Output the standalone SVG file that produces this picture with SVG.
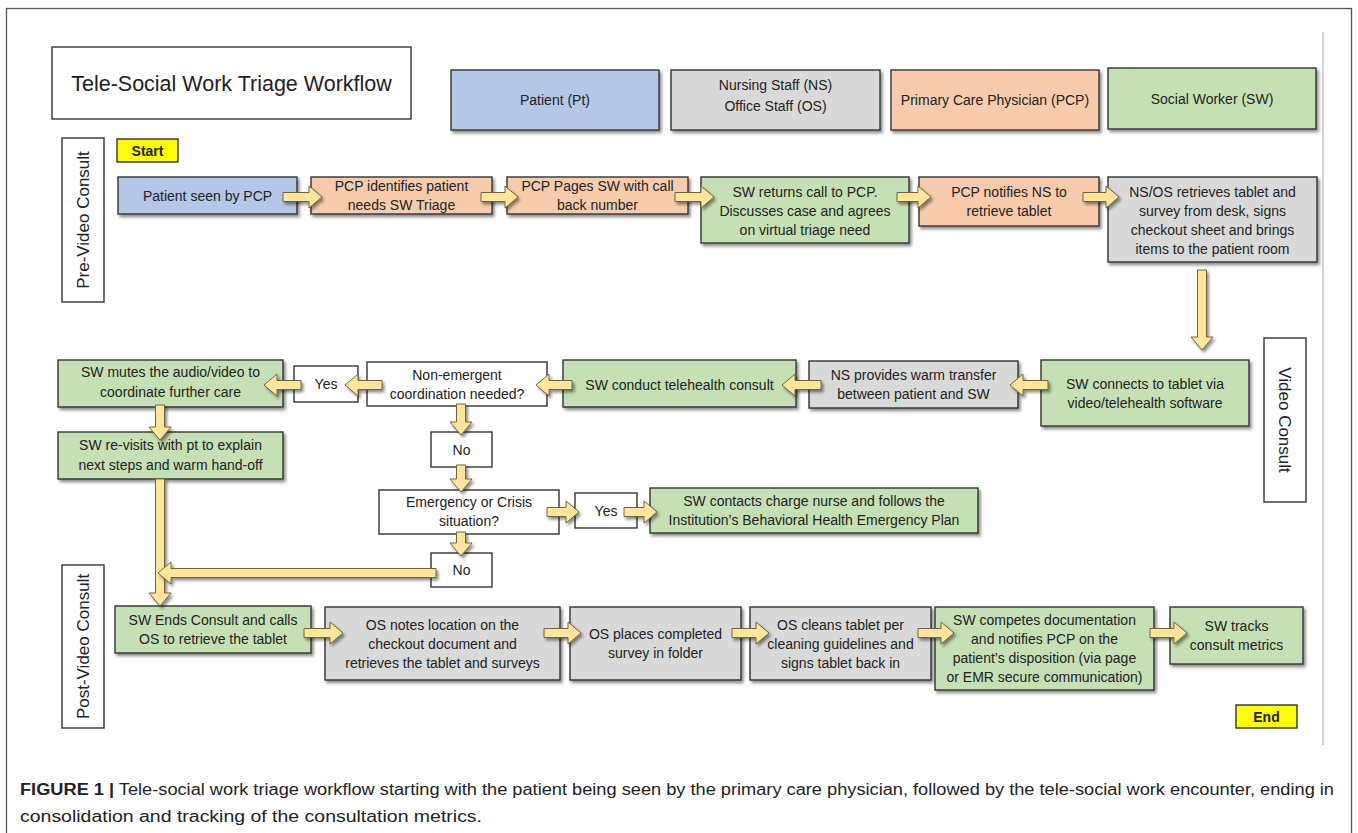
<svg xmlns="http://www.w3.org/2000/svg" width="1358" height="833" viewBox="0 0 1358 833">
<defs>
<filter id="sh" x="-10%" y="-10%" width="130%" height="140%">
<feDropShadow dx="2" dy="2.5" stdDeviation="1.5" flood-color="#000" flood-opacity="0.45"/>
</filter>
<style>
.bx{stroke:#333;stroke-width:1.4;filter:url(#sh)}
.pt{fill:#b4c7e7}.ns{fill:#d9d9d9}.pcp{fill:#f8cbad}.sw{fill:#c5e0b4}.wh{fill:#fff}.yl{fill:#ffff00}
.lab{fill:#fff;stroke:#333;stroke-width:1.4}
.dec{fill:#fff;stroke:#333;stroke-width:1.4}
.t{font-family:"Liberation Sans",Arial,sans-serif;font-size:14px;fill:#222;text-anchor:middle}
.tb{font-family:"Liberation Sans",Arial,sans-serif;font-size:14px;font-weight:bold;fill:#222;text-anchor:middle}
.sec{font-family:"Liberation Sans",Arial,sans-serif;font-size:17px;fill:#222;text-anchor:middle}
.arr{fill:#ffe699;stroke:#6e6444;stroke-width:1;filter:url(#sh)}
.cap{font-family:"Liberation Sans Narrow","Liberation Sans",Arial,sans-serif;font-size:16px;fill:#222}
</style>
</defs>
<rect x="6.5" y="8.5" width="1345" height="840" fill="#fff" stroke="#555" stroke-width="1.3"/>
<line x1="1323" y1="32" x2="1323" y2="745" stroke="#d4d4d4" stroke-width="2"/>

<g id="title"><rect x="52" y="47" width="359" height="72" fill="#fff" stroke="#333" stroke-width="1.4"/>
<text x="231.5" y="90.5" style="font-family:'Liberation Sans',Arial,sans-serif;font-size:21.5px;fill:#222;text-anchor:middle">Tele-Social Work Triage Workflow</text></g>

<g id="legend-pt"><rect class="bx pt" x="451" y="70" width="208" height="60"/><text class="t" x="555" y="105">Patient (Pt)</text></g>
<g id="legend-ns"><rect class="bx ns" x="671" y="70" width="209" height="60"/><text class="t" x="775.5" y="90">Nursing Staff (NS)</text><text class="t" x="775.5" y="111">Office Staff (OS)</text></g>
<g id="legend-pcp"><rect class="bx pcp" x="891" y="70" width="208" height="60"/><text class="t" x="995" y="105">Primary Care Physician (PCP)</text></g>
<g id="legend-sw"><rect class="bx sw" x="1108" y="68" width="208" height="61"/><text class="t" x="1212" y="103.5">Social Worker (SW)</text></g>

<g id="sec-pre"><rect class="lab" x="62" y="138" width="42" height="164"/><text class="sec" transform="translate(89,220) rotate(-90)">Pre-Video Consult</text></g>
<g id="sec-video"><rect class="lab" x="1264" y="338" width="42" height="164"/><text class="sec" transform="translate(1279,420) rotate(90)">Video Consult</text></g>
<g id="sec-post"><rect class="lab" x="62" y="565" width="42" height="163"/><text class="sec" transform="translate(89,646.5) rotate(-90)">Post-Video Consult</text></g>

<g id="start"><rect class="yl" x="117" y="139" width="61" height="23" stroke="#333" stroke-width="1.4"/><text class="tb" x="147.5" y="155.5">Start</text></g>

<g id="n1"><rect class="bx pt" x="118" y="177" width="179" height="37"/><text class="t" x="207.5" y="200.5">Patient seen by PCP</text></g>
<g id="n2"><rect class="bx pcp" x="311" y="177" width="181" height="37"/><text class="t" x="401.5" y="191">PCP identifies patient</text><text class="t" x="401.5" y="210">needs SW Triage</text></g>
<g id="n3"><rect class="bx pcp" x="507" y="177" width="181" height="37"/><text class="t" x="597.5" y="191">PCP Pages SW with call</text><text class="t" x="597.5" y="210">back number</text></g>
<g id="n4"><rect class="bx sw" x="701" y="177" width="208" height="66"/><text class="t" x="805" y="197">SW returns call to PCP.</text><text class="t" x="805" y="216">Discusses case and agrees</text><text class="t" x="805" y="235">on virtual triage need</text></g>
<g id="n5"><rect class="bx pcp" x="919" y="177" width="180" height="49"/><text class="t" x="1009" y="197">PCP notifies NS to</text><text class="t" x="1009" y="216">retrieve tablet</text></g>
<g id="n6"><rect class="bx ns" x="1108" y="177" width="209" height="85"/><text class="t" x="1212.5" y="196.5">NS/OS retrieves tablet and</text><text class="t" x="1212.5" y="215.5">survey from desk, signs</text><text class="t" x="1212.5" y="234.5">checkout sheet and brings</text><text class="t" x="1212.5" y="253.5">items to the patient room</text></g>

<g id="n7"><rect class="bx sw" x="1041" y="360" width="208" height="66"/><text class="t" x="1145" y="389">SW connects to tablet via</text><text class="t" x="1145" y="408">video/telehealth software</text></g>
<g id="n8"><rect class="bx ns" x="809" y="361" width="209" height="47"/><text class="t" x="913.5" y="380">NS provides warm transfer</text><text class="t" x="913.5" y="399">between patient and SW</text></g>
<g id="n9"><rect class="bx sw" x="563" y="360" width="233" height="47"/><text class="t" x="679.5" y="390">SW conduct telehealth consult</text></g>
<g id="d1"><rect class="dec" x="367" y="362" width="180" height="44"/><text class="t" x="457" y="380">Non-emergent</text><text class="t" x="457" y="399">coordination needed?</text></g>
<g id="y1"><rect class="dec" x="294" y="366" width="64" height="36"/><text class="t" x="326" y="389">Yes</text></g>
<g id="n10"><rect class="bx sw" x="58" y="360" width="225" height="47"/><text class="t" x="170.5" y="377">SW mutes the audio/video to</text><text class="t" x="170.5" y="397">coordinate further care</text></g>
<g id="n11"><rect class="bx sw" x="58" y="432" width="225" height="47"/><text class="t" x="170.5" y="450">SW re-visits with pt to explain</text><text class="t" x="170.5" y="470">next steps and warm hand-off</text></g>
<g id="no1"><rect class="dec" x="431" y="432" width="61" height="35"/><text class="t" x="461.5" y="454.5">No</text></g>
<g id="d2"><rect class="dec" x="379" y="490" width="180" height="44"/><text class="t" x="469" y="507">Emergency or Crisis</text><text class="t" x="469" y="526">situation?</text></g>
<g id="y2"><rect class="dec" x="575" y="493" width="62" height="35"/><text class="t" x="606" y="515.5">Yes</text></g>
<g id="n12"><rect class="bx sw" x="650" y="488" width="328" height="45"/><text class="t" x="814" y="506">SW contacts charge nurse and follows the</text><text class="t" x="814" y="525">Institution’s Behavioral Health Emergency Plan</text></g>
<g id="no2"><rect class="dec" x="431" y="553" width="61" height="34"/><text class="t" x="461.5" y="575">No</text></g>

<g id="n13"><rect class="bx sw" x="115" y="606" width="196" height="47"/><text class="t" x="213" y="625">SW Ends Consult and calls</text><text class="t" x="213" y="644">OS to retrieve the tablet</text></g>
<g id="n14"><rect class="bx ns" x="325" y="607" width="235" height="73"/><text class="t" x="442.5" y="630">OS notes location on the</text><text class="t" x="442.5" y="649">checkout document and</text><text class="t" x="442.5" y="668">retrieves the tablet and surveys</text></g>
<g id="n15"><rect class="bx ns" x="570" y="607" width="171" height="73"/><text class="t" x="655.5" y="639">OS places completed</text><text class="t" x="655.5" y="658">survey in folder</text></g>
<g id="n16"><rect class="bx ns" x="750" y="607" width="181" height="73"/><text class="t" x="840.5" y="630">OS cleans tablet per</text><text class="t" x="840.5" y="649">cleaning guidelines and</text><text class="t" x="840.5" y="668">signs tablet back in</text></g>
<g id="n17"><rect class="bx sw" x="935" y="607" width="219" height="83"/><text class="t" x="1044.5" y="625">SW competes documentation</text><text class="t" x="1044.5" y="644">and notifies PCP on the</text><text class="t" x="1044.5" y="663">patient’s disposition (via page</text><text class="t" x="1044.5" y="682">or EMR secure communication)</text></g>
<g id="n18"><rect class="bx sw" x="1170" y="607" width="133" height="57"/><text class="t" x="1236.5" y="631">SW tracks</text><text class="t" x="1236.5" y="650">consult metrics</text></g>
<g id="end"><rect class="yl" x="1236" y="705" width="61" height="23" stroke="#333" stroke-width="1.4"/><text class="tb" x="1266.5" y="721.5">End</text></g>

<g id="connectors">
<path class="arr" d="M283,192.5 H309 V186 L322,197 L309,208 V201.5 H283 Z"/>
<path class="arr" d="M481,192.5 H505 V186 L518,197 L505,208 V201.5 H481 Z"/>
<path class="arr" d="M675,192.5 H701 V186 L714,197 L701,208 V201.5 H675 Z"/>
<path class="arr" d="M897,192.5 H918 V186 L931,197 L918,208 V201.5 H897 Z"/>
<path class="arr" d="M1083,192.5 H1106 V186 L1119,197 L1106,208 V201.5 H1083 Z"/>
<path class="arr" d="M1197.5,270 V337 H1191 L1202,350 L1213,337 H1206.5 V270 Z"/>
<path class="arr" d="M1048,380.5 H1023 V374 L1010,385 L1023,396 V389.5 H1048 Z"/>
<path class="arr" d="M821,380.5 H795 V374 L782,385 L795,396 V389.5 H821 Z"/>
<path class="arr" d="M572,380.5 H549 V374 L536,385 L549,396 V389.5 H572 Z"/>
<path class="arr" d="M382,380.5 H358 V374 L345,385 L358,396 V389.5 H382 Z"/>
<path class="arr" d="M301,380.5 H277 V374 L264,385 L277,396 V389.5 H301 Z"/>
<path class="arr" d="M155.5,405 V427 H149 L160,440 L171,427 H164.5 V405 Z"/>
<path class="arr" d="M456.5,404 V422 H450 L461,435 L472,422 H465.5 V404 Z"/>
<path class="arr" d="M456.5,465 V479 H450 L461,492 L472,479 H465.5 V465 Z"/>
<path class="arr" d="M456.5,532 V543 H450 L461,556 L472,543 H465.5 V532 Z"/>
<path class="arr" d="M547,507.5 H566 V501 L579,512 L566,523 V516.5 H547 Z"/>
<path class="arr" d="M624,507.5 H644 V501 L657,512 L644,523 V516.5 H624 Z"/>
<path class="arr" d="M155.5,479 V593 H149 L160,606 L171,593 H164.5 V479 Z"/>
<path class="arr" d="M436,568.5 H171 V562 L158,573 L171,584 V577.5 H436 Z"/>
<path class="arr" d="M304,628.5 H330 V622 L343,633 L330,644 V637.5 H304 Z"/>
<path class="arr" d="M544,628.5 H568 V622 L581,633 L568,644 V637.5 H544 Z"/>
<path class="arr" d="M732,628.5 H756 V622 L769,633 L756,644 V637.5 H732 Z"/>
<path class="arr" d="M918,628.5 H941 V622 L954,633 L941,644 V637.5 H918 Z"/>
<path class="arr" d="M1150,628.5 H1174 V622 L1187,633 L1174,644 V637.5 H1150 Z"/>
</g>

<g id="caption">
<text class="cap" x="20" y="795" textLength="1314" lengthAdjust="spacingAndGlyphs"><tspan font-weight="bold">FIGURE 1 |</tspan> Tele-social work triage workflow starting with the patient being seen by the primary care physician, followed by the tele-social work encounter, ending in</text>
<text class="cap" x="20" y="822" textLength="462" lengthAdjust="spacingAndGlyphs">consolidation and tracking of the consultation metrics.</text>
</g>
</svg>
